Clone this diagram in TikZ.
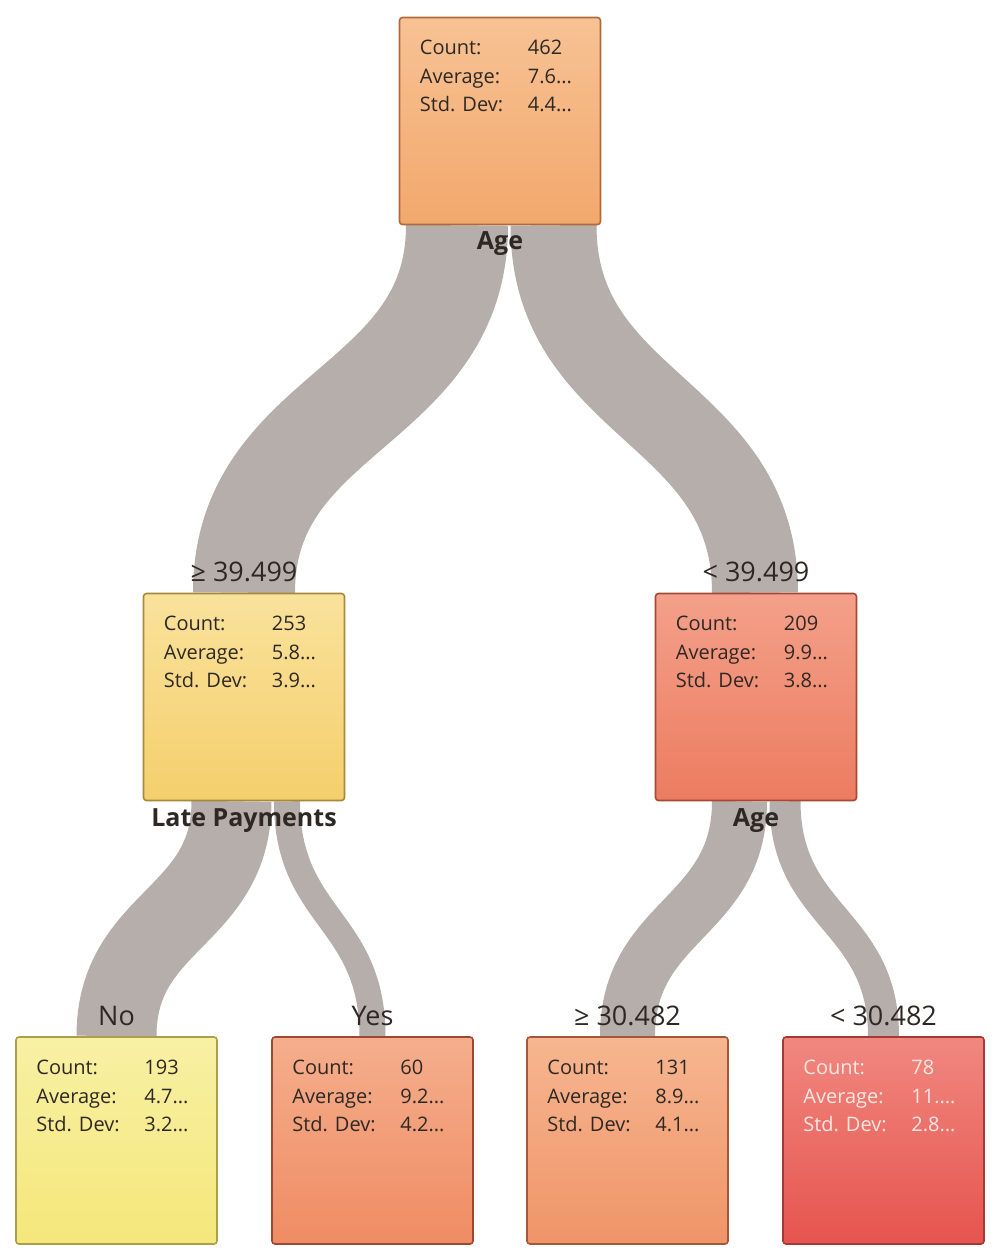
\documentclass[tikz,border=0pt]{standalone}
\usepackage{fontspec}
\setmainfont{Open Sans}
\usetikzlibrary{calc,backgrounds}
\definecolor{rib}{HTML}{B5AEAA}
\definecolor{txt}{HTML}{2E2824}
\definecolor{rootT}{HTML}{F7C294}\definecolor{rootB}{HTML}{F2A86C}\definecolor{rootD}{HTML}{B06A3C}
\definecolor{lmT}{HTML}{FAE29C}\definecolor{lmB}{HTML}{F4CF6C}\definecolor{lmD}{HTML}{A8883E}
\definecolor{rmT}{HTML}{F4A08A}\definecolor{rmB}{HTML}{EC7C60}\definecolor{rmD}{HTML}{A44A34}
\definecolor{b1T}{HTML}{F8F0A4}\definecolor{b1B}{HTML}{F5E77A}\definecolor{b1D}{HTML}{A8A04A}
\definecolor{b2T}{HTML}{F5AE8C}\definecolor{b2B}{HTML}{EF8C64}\definecolor{b2D}{HTML}{9E4834}
\definecolor{b3T}{HTML}{F6B690}\definecolor{b3B}{HTML}{F09468}\definecolor{b3D}{HTML}{A4563A}
\definecolor{b4T}{HTML}{F08880}\definecolor{b4B}{HTML}{E6544E}\definecolor{b4D}{HTML}{A43A34}
\definecolor{wtxt}{HTML}{FCE8E2}
\tikzset{
  nbox/.style={rectangle, rounded corners=3pt, line width=1.6pt, minimum width=201pt, minimum height=207pt, inner sep=0pt},
  stxt/.style={anchor=base west, inner sep=0pt, font=\fontsize{20}{24}\selectfont},
  splitlbl/.style={anchor=base, inner sep=0pt, text=txt, font=\fontsize{25}{30}\selectfont\bfseries},
  condlbl/.style={anchor=base, inner sep=0pt, text=txt, font=\fontsize{27}{32}\selectfont},
  ribbon/.style={draw=rib, line cap=butt}
}
\newcommand\stats[5]{%
  \node[stxt,text=#2] (#1-c1) at ($(#1.north west)+(21,38)$) {Count:};
  \node[stxt,text=#2] (#1-c2) at ($(#1.north west)+(21,67)$) {Average:};
  \node[stxt,text=#2] (#1-c3) at ($(#1.north west)+(21,95)$) {Std. Dev:};
  \node[stxt,text=#2] (#1-v1) at ($(#1.north west)+(129,38)$) {#3};
  \node[stxt,text=#2] (#1-v2) at ($(#1.north west)+(129,67)$) {#4};
  \node[stxt,text=#2] (#1-v3) at ($(#1.north west)+(129,95)$) {#5};
}
% #1 parent, #2 top x offset, #3 child, #4 bottom x offset, #5 width
\newcommand\flow[5]{%
  \path[ribbon, line width=#5pt] let \p1=($(#1.south)+(#2,0)$),
    \p2=($(#3.north)+(#4,0)$), \p3=($(\p1)!0.5!(\p2)$) in
    (\p1) .. controls (\x1,\y3) and (\x2,\y3) .. (\p2);
}
\begin{document}
\begin{tikzpicture}[x=1pt,y=-1pt]
\useasboundingbox (0,0) rectangle (999,1254);
\node[nbox, top color=rootT, bottom color=rootB, draw=rootD] (root) at (500,121) {};
\node[nbox, top color=lmT, bottom color=lmB, draw=lmD] (lm) at (244,697) {};
\node[nbox, top color=rmT, bottom color=rmB, draw=rmD] (rm) at (756,697) {};
\node[nbox, top color=b1T, bottom color=b1B, draw=b1D] (b1) at (116.5,1140.5) {};
\node[nbox, top color=b2T, bottom color=b2B, draw=b2D] (b2) at (372.5,1140.5) {};
\node[nbox, top color=b3T, bottom color=b3B, draw=b3D] (b3) at (627.5,1140.5) {};
\node[nbox, top color=b4T, bottom color=b4B, draw=b4D] (b4) at (883.5,1140.5) {};
\stats{root}{txt}{462}{7.6...}{4.4...}
\stats{lm}{txt}{253}{5.8...}{3.9...}
\stats{rm}{txt}{209}{9.9...}{3.8...}
\stats{b1}{txt}{193}{4.7...}{3.2...}
\stats{b2}{txt}{60}{9.2...}{4.2...}
\stats{b3}{txt}{131}{8.9...}{4.1...}
\stats{b4}{wtxt}{78}{11....}{2.8...}
\begin{scope}[on background layer]
  \flow{root}{-43}{lm}{0}{102}
  \flow{root}{53.5}{rm}{-1}{86}
  \flow{lm}{-12.5}{b1}{0}{80}
  \flow{lm}{43}{b2}{0}{26}
  \flow{rm}{-16.5}{b3}{0}{55}
  \flow{rm}{29}{b4}{0}{31}
\end{scope}
\node[splitlbl] (s1) at ($(root.south)+(0,24)$) {Age};
\node[splitlbl] (s2) at ($(lm.south)+(0,25)$) {Late Payments};
\node[splitlbl] (s3) at ($(rm.south)+(0,25)$) {Age};
\node[condlbl] (c1) at ($(lm.north)+(0,-11)$) {≥ 39.499};
\node[condlbl] (c2) at ($(rm.north)+(0,-11)$) {< 39.499};
\node[condlbl] (c3) at ($(b1.north)+(0,-11)$) {No};
\node[condlbl] (c4) at ($(b2.north)+(0,-11)$) {Yes};
\node[condlbl] (c5) at ($(b3.north)+(0,-11)$) {≥ 30.482};
\node[condlbl] (c6) at ($(b4.north)+(0,-11)$) {< 30.482};
\end{tikzpicture}
\end{document}
